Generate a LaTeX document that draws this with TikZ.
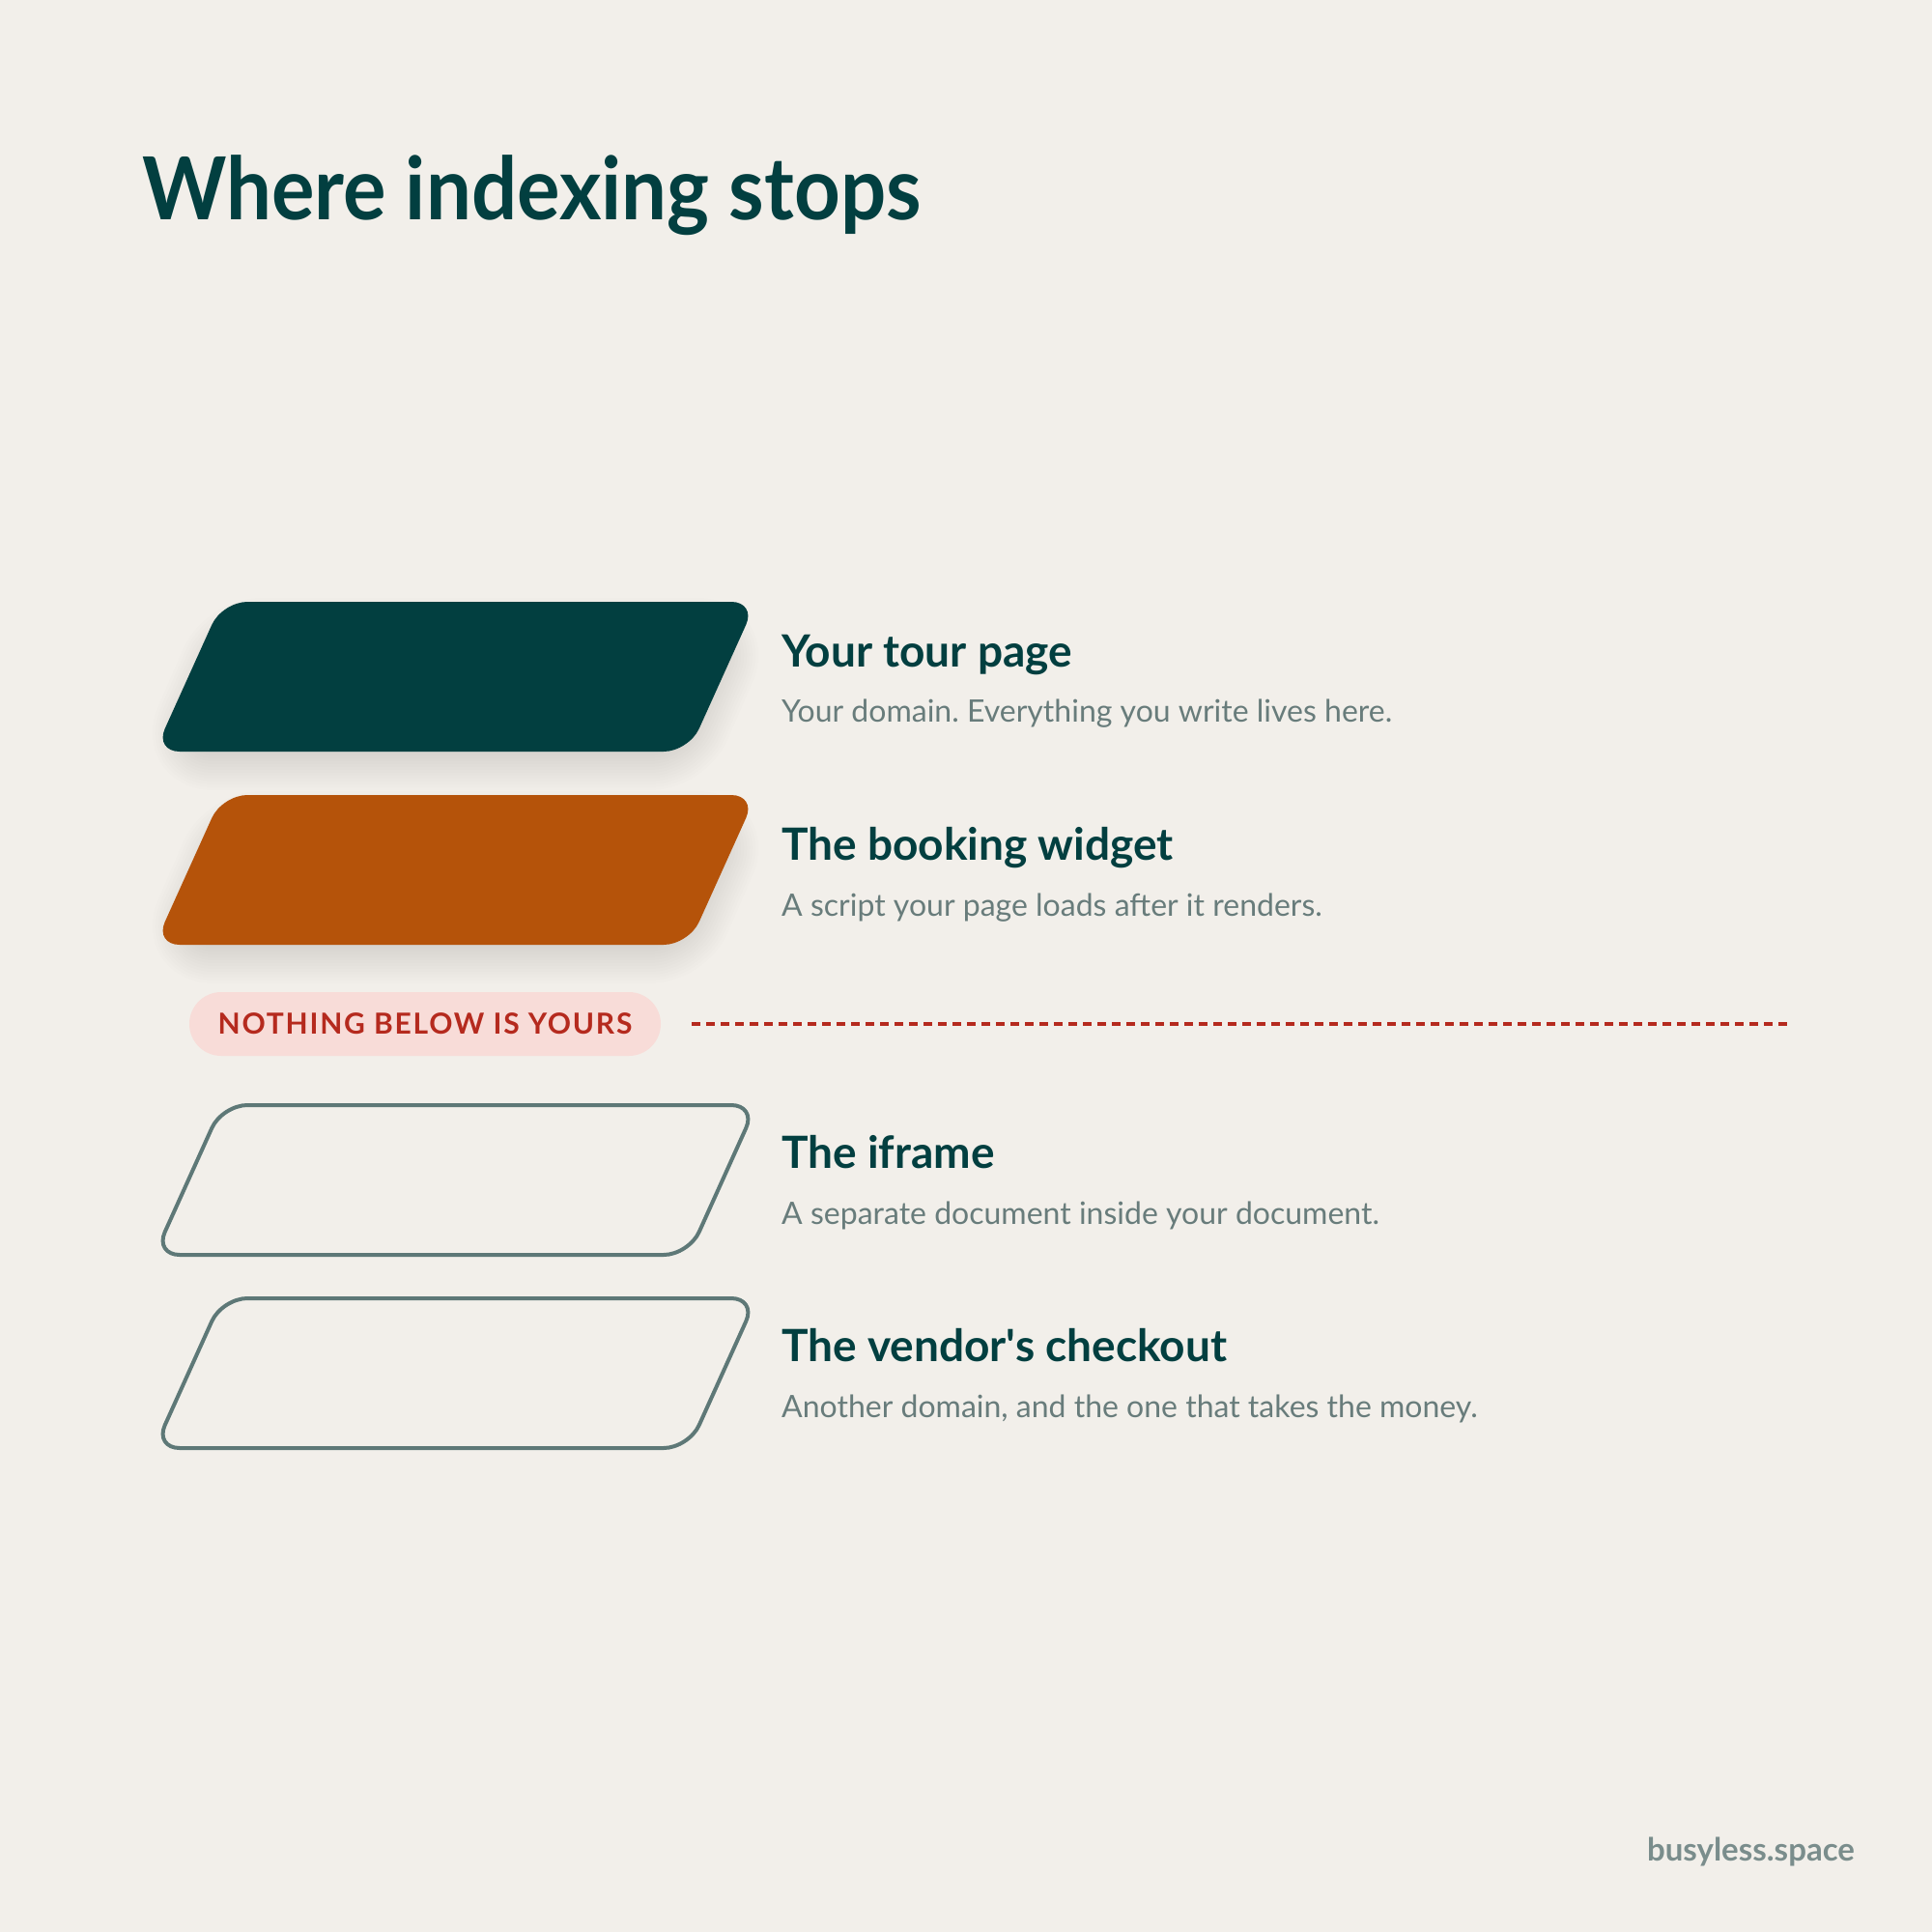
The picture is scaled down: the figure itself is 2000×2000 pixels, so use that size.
\documentclass[tikz,border=0pt]{standalone}
\usepackage{fontspec}
\setmainfont{Lato}[Ligatures=TeXOff]
\definecolor{bg}{HTML}{F2EFEA}
\definecolor{tealc}{HTML}{023F40}
\definecolor{rust}{HTML}{B5530A}
\definecolor{outl}{HTML}{5E7877}
\definecolor{subg}{HTML}{687C7B}
\definecolor{alert}{HTML}{B52A1E}
\definecolor{pillc}{HTML}{F8DCD8}
\definecolor{foot}{HTML}{7A8D8C}
\newcommand{\slab}[1]{(160,#1+155) -- (230,#1) -- (783,#1) -- (713,#1+155) -- cycle}
\newcommand{\slabin}[1]{(190,#1+135) -- (240,#1+20) -- (753,#1+20) -- (703,#1+135) -- cycle}
\begin{document}
\frenchspacing
\begin{tikzpicture}[x=1pt,y=-1pt,
  txt/.style={inner sep=0pt, anchor=base west},
  headtxt/.style={txt, text=tealc, font=\fontsize{46}{50}\selectfont\bfseries},
  subtxt/.style={txt, text=subg, font=\fontsize{32}{36}\selectfont},
  layerfill/.style={rounded corners=26pt},
  layerline/.style={rounded corners=26pt, draw=outl, line width=4pt},
  shadowstroke/.style={rounded corners=30pt, draw=black, line join=round, opacity=0.006}
]
\fill[bg] (0,0) rectangle (2000,2000);
\useasboundingbox (0,0) rectangle (2000,2000);

% title
\node[txt, text=tealc, font=\fontsize{90}{96}\selectfont\bfseries] (title) at (147,227) {\scalebox{0.925}[1]{Where indexing stops}};

% soft shadows
\foreach \yy in {623,823}{
  \foreach \w in {84,78,...,6}{
    \draw[shadowstroke, line width=\w pt] [yshift=-18pt] \slabin{\yy};
  }
}
% layers
\fill[layerfill, tealc] \slab{623};
\fill[layerfill, rust] \slab{823};
\draw[layerline] \slab{1144};
\draw[layerline] \slab{1344};

% texts
\node[headtxt] (h1) at (809,690) {Your tour page};
\node[subtxt] (s1) at (809,747) {Your domain. Everything you write lives here.};
\node[headtxt] (h2) at (809,890) {The booking widget};
\node[subtxt] (s2) at (809,948) {A script your page loads after it renders.};
\node[headtxt] (h3) at (809,1209) {The iframe};
\node[subtxt] (s3) at (809,1267) {A separate document inside your document.};
\node[headtxt] (h4) at (809,1409) {The vendor's checkout};
\node[subtxt] (s4) at (809,1467) {Another domain, and the one that takes the money.};

% divider
\node[fill=pillc, rounded corners=33pt, minimum width=488pt, minimum height=66pt, inner sep=0pt,
      text=alert, font=\fontsize{30}{34}\selectfont\bfseries\addfontfeatures{LetterSpace=6}] (pill) at (440,1060) {NOTHING BELOW IS YOURS};
\coordinate (dend) at (1856,1060);
\draw[alert, line width=4pt, dash pattern=on 9pt off 6pt] ([xshift=32pt]pill.east) -- (dend);

% footer
\node[anchor=base east, inner sep=0pt, text=foot, font=\fontsize{33}{36}\selectfont\bfseries] (foot) at (1920,1926) {busyless.space};
\end{tikzpicture}
\end{document}
